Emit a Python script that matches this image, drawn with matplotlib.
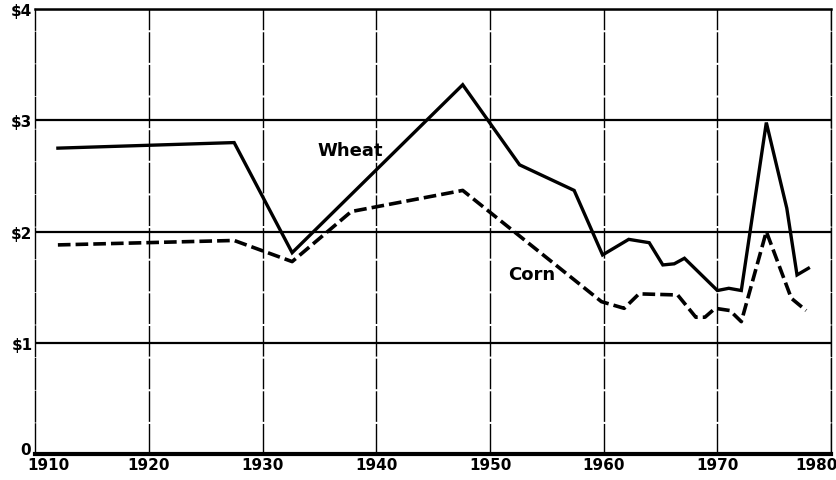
import matplotlib
matplotlib.use('Agg')
import matplotlib.pyplot as plt
from matplotlib.transforms import ScaledTranslation

# prices per bushel
wheat_years = [1912, 1927.5, 1932.6, 1947.6, 1952.6, 1957.4, 1959.9, 1962.2, 1964.0,
               1965.2, 1966.2, 1967.1, 1970.0, 1971.0, 1972.1, 1974.3, 1976.1, 1977.0, 1978.0]
wheat_price = [2.75, 2.80, 1.81, 3.32, 2.60, 2.37, 1.79, 1.93, 1.90,
               1.70, 1.71, 1.76, 1.47, 1.49, 1.47, 2.98, 2.21, 1.61, 1.67]

corn_years = [1912, 1927.5, 1932.6, 1937.8, 1947.6, 1959.8, 1961.8, 1963.1, 1966.5,
              1968.1, 1968.9, 1969.8, 1971.1, 1972.1, 1974.3, 1976.5, 1977.8]
corn_price = [1.88, 1.92, 1.73, 2.18, 2.37, 1.37, 1.31, 1.44, 1.43,
              1.23, 1.23, 1.31, 1.29, 1.19, 2.00, 1.40, 1.29]

x_ticks = [1910, 1920, 1930, 1940, 1950, 1960, 1970, 1980]
y_ticks = [0, 1, 2, 3, 4]
y_labels = ['0', '$1', '$2', '$3', '$4']

font = ['Liberation Sans Narrow', 'DejaVu Sans']

fig = plt.figure(figsize=(8.37, 4.81), dpi=100)
ax = fig.add_axes([0.042, 0.054, 0.951, 0.925])

ax.plot(wheat_years, wheat_price, color='black', lw=2.4, solid_joinstyle='miter')
ax.plot(corn_years, corn_price, color='black', lw=2.6, dashes=(3.5, 1.4))

ax.set_xlim(1910, 1980)
ax.set_ylim(0, 4)

# horizontal grid solid, vertical grid broken
for v in y_ticks[1:]:
    ax.axhline(v, color='black', lw=1.6, zorder=0)
for yr in x_ticks[1:]:
    ax.axvline(yr, color='black', lw=1.0, dashes=(22, 1.5), zorder=0)

ax.set_xticks(x_ticks)
ax.set_xticklabels([str(y) for y in x_ticks], family=font, fontweight='bold', fontsize=11)
ax.set_yticks(y_ticks)
ax.set_yticklabels(y_labels, family=font, fontweight='bold', fontsize=11)
ax.tick_params(length=0, pad=2)

# nudge the end labels inward like the original
xl = ax.get_xticklabels()
xl[0].set_transform(xl[0].get_transform() + ScaledTranslation(0.13, 0, fig.dpi_scale_trans))
xl[-1].set_transform(xl[-1].get_transform() + ScaledTranslation(-0.15, 0, fig.dpi_scale_trans))
yl = ax.get_yticklabels()
yl[0].set_transform(yl[0].get_transform() + ScaledTranslation(-0.02, 0.06, fig.dpi_scale_trans))

for s in ['top', 'right', 'left']:
    ax.spines[s].set_linewidth(1.0)
ax.spines['right'].set_linestyle((0, (22, 1.5)))
ax.spines['left'].set_linestyle((0, (22, 1.5)))
ax.spines['top'].set_linewidth(1.8)
ax.spines['bottom'].set_linewidth(3.0)

ax.text(1934.8, 2.73, 'Wheat', family=['DejaVu Sans'], fontweight='bold', fontsize=13,
        va='center', ha='left')
ax.text(1951.6, 1.62, 'Corn', family=['DejaVu Sans'], fontweight='bold', fontsize=13,
        va='center', ha='left')

fig.savefig('out.png', dpi=100)
